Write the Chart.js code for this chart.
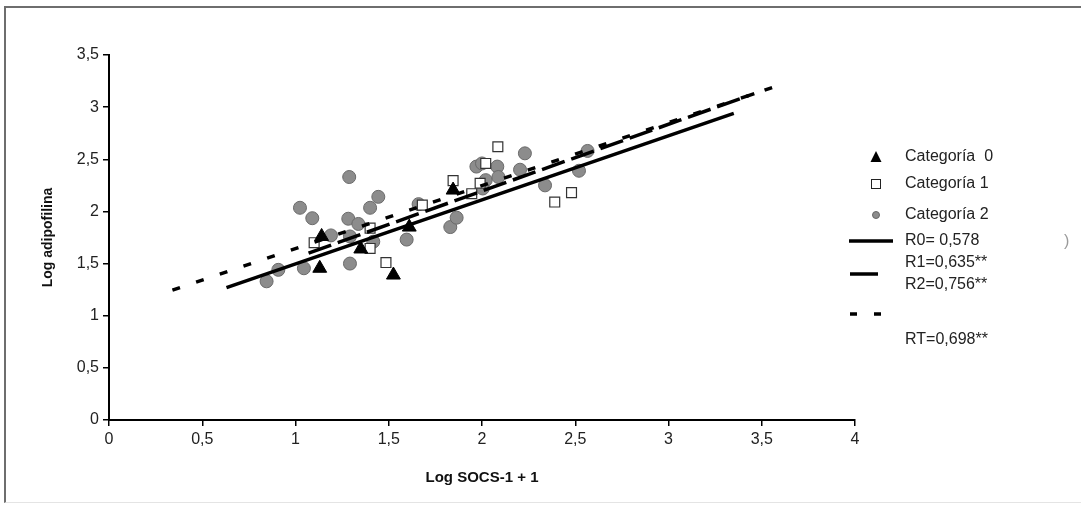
<!DOCTYPE html>
<html>
<head>
<meta charset="utf-8">
<script src="https://cdn.jsdelivr.net/npm/chart.js@4.4.0/dist/chart.umd.min.js"></script>
<style>
    html, body { margin: 0; padding: 0; background: #fff; }
    #wrap { position: relative; width: 1081px; height: 505px; overflow: hidden; }
    #frame {
        position: absolute; left: 4px; top: 6px; width: 1090px; height: 494px;
        border-left: 2px solid #6e6e6e; border-top: 2px solid #6e6e6e;
        border-bottom: 1px solid #e4e4e4;
    }
    #edge { position: absolute; left: 1064px; top: 232px; font: 16px "Liberation Sans", Arial, sans-serif; color: #9a9a9a; }
    canvas { position: absolute; left: 0; top: 0; }
</style>
</head>
<body>
<div id="wrap">
    <div id="frame"></div>
    <canvas id="scatter-chart" width="1081" height="505"></canvas>
    <div id="edge">)</div>
</div>
<script>
// Puntos por categoría (Log SOCS-1 + 1, Log adipofilina)
const cat0X = [1.13, 1.14, 1.35, 1.525, 1.61, 1.845];
const cat0Y = [1.455, 1.76, 1.64, 1.39, 1.85, 2.205];

const cat1X = [1.10, 1.40, 1.40, 1.485, 1.68, 1.845, 1.945, 1.99, 2.02, 2.085, 2.39, 2.48];
const cat1Y = [1.70, 1.84, 1.645, 1.51, 2.06, 2.295, 2.17, 2.27, 2.46, 2.62, 2.09, 2.18];

const cat2X = [0.845, 0.908, 1.045, 1.024, 1.09, 1.19, 1.288, 1.283, 1.337, 1.292, 1.292, 1.40, 1.444, 1.417,
               1.596, 1.66, 1.83, 1.864, 1.97, 2.00, 2.082, 2.02, 2.088, 2.004, 2.204, 2.23, 2.338, 2.52, 2.566];
const cat2Y = [1.33, 1.44, 1.455, 2.035, 1.935, 1.77, 2.33, 1.93, 1.88, 1.76, 1.50, 2.035, 2.14, 1.71,
               1.73, 2.07, 1.85, 1.94, 2.43, 2.46, 2.43, 2.30, 2.33, 2.22, 2.40, 2.557, 2.25, 2.39, 2.58];

// Rectas de regresión (extremos)
const r0X = [0.63, 3.35];
const r0Y = [1.27, 2.94];
const r1X = [1.07, 3.46];
const r1Y = [1.60, 3.13];
const r2X = [0.34, 3.56];
const r2Y = [1.245, 3.19];

const legendLabels = ['Categoría  0', 'Categoría 1', 'Categoría 2', 'R0= 0,578', 'R1=0,635**', 'R2=0,756**', 'RT=0,698**'];

const xTitle = 'Log SOCS-1 + 1';
const yTitle = 'Log adipofilina';

const FONT = '"Liberation Sans", Arial, sans-serif';

function toPoints(xs, ys) {
    return xs.map((x, i) => ({ x: x, y: ys[i] }));
}

function comma(value) {
    return String(value).replace('.', ',');
}

// Leyenda lateral dibujada a mano
const sideLegend = {
    id: 'sideLegend',
    afterDraw(chart) {
        const ctx = chart.ctx;
        const mx = 876;
        const tx = 905;
        const rows = [157, 184, 215, 241, 263, 285, 340];
        ctx.save();
        ctx.font = '16px ' + FONT;
        ctx.fillStyle = '#222';
        ctx.textBaseline = 'middle';
        legendLabels.forEach((t, i) => ctx.fillText(t, tx, rows[i]));

        // triángulo
        ctx.fillStyle = '#000';
        ctx.beginPath();
        ctx.moveTo(mx, rows[0] - 6);
        ctx.lineTo(mx + 5.5, rows[0] + 5);
        ctx.lineTo(mx - 5.5, rows[0] + 5);
        ctx.closePath();
        ctx.fill();

        // cuadrado
        ctx.strokeStyle = '#222';
        ctx.lineWidth = 1;
        ctx.strokeRect(mx - 4.5, rows[1] - 4.5, 9, 9);

        // círculo
        ctx.fillStyle = '#8c8c8c';
        ctx.strokeStyle = '#666';
        ctx.beginPath();
        ctx.arc(mx, rows[2], 3.5, 0, Math.PI * 2);
        ctx.fill();
        ctx.stroke();

        // líneas
        ctx.strokeStyle = '#000';
        ctx.lineWidth = 3.5;
        ctx.beginPath();
        ctx.moveTo(849, rows[3]); ctx.lineTo(893, rows[3]);
        ctx.stroke();
        ctx.beginPath();
        ctx.moveTo(850, rows[4] + 11); ctx.lineTo(878, rows[4] + 11);
        ctx.stroke();
        ctx.beginPath();
        ctx.moveTo(850, rows[5] + 29); ctx.lineTo(857, rows[5] + 29);
        ctx.moveTo(874, rows[5] + 29); ctx.lineTo(881, rows[5] + 29);
        ctx.stroke();
        ctx.restore();
    }
};

const ctx = document.getElementById('scatter-chart').getContext('2d');

new Chart(ctx, {
    type: 'scatter',
    data: {
        datasets: [
            {
                type: 'line', label: 'R0', data: toPoints(r0X, r0Y),
                borderColor: '#000', borderWidth: 3.5, pointRadius: 0, fill: false, order: 0
            },
            {
                type: 'line', label: 'R1', data: toPoints(r1X, r1Y),
                borderColor: '#000', borderWidth: 3.5, borderDash: [24, 7], pointRadius: 0, fill: false, order: 0
            },
            {
                type: 'line', label: 'R2', data: toPoints(r2X, r2Y),
                borderColor: '#000', borderWidth: 3.5, borderDash: [8, 17], pointRadius: 0, fill: false, order: 0
            },
            {
                label: 'Categoría 2', data: toPoints(cat2X, cat2Y),
                pointStyle: 'circle', pointRadius: 6.5, backgroundColor: '#8c8c8c', borderColor: '#6a6a6a', borderWidth: 1, order: 3
            },
            {
                label: 'Categoría 1', data: toPoints(cat1X, cat1Y),
                pointStyle: 'rect', pointRadius: 7, backgroundColor: '#fff', borderColor: '#333', borderWidth: 1.2, order: 2
            },
            {
                label: 'Categoría 0', data: toPoints(cat0X, cat0Y),
                pointStyle: 'triangle', pointRadius: 8, backgroundColor: '#000', borderColor: '#000', borderWidth: 1, order: 1
            }
        ]
    },
    options: {
        responsive: false,
        animation: false,
        layout: {
            padding: { left: 40, top: 55, right: 226, bottom: 18 }
        },
        plugins: {
            legend: { display: false },
            tooltip: { enabled: false }
        },
        scales: {
            x: {
                type: 'linear',
                min: 0,
                max: 4,
                afterFit(scale) { scale.height = 67; },
                border: { color: '#000', width: 2 },
                grid: { drawOnChartArea: false, color: '#000', tickLength: 6, lineWidth: 1.5 },
                ticks: {
                    stepSize: 0.5,
                    color: '#222',
                    font: { family: FONT, size: 16 },
                    padding: 4,
                    callback: value => comma(value)
                },
                title: {
                    display: true,
                    text: xTitle,
                    color: '#111',
                    font: { family: FONT, size: 15, weight: 'bold' },
                    padding: { top: 0, bottom: 0 }
                }
            },
            y: {
                type: 'linear',
                min: 0,
                max: 3.5,
                afterFit(scale) { scale.width = 69; },
                border: { color: '#000', width: 2 },
                grid: { drawOnChartArea: false, color: '#000', tickLength: 6, lineWidth: 1.5 },
                ticks: {
                    stepSize: 0.5,
                    color: '#222',
                    font: { family: FONT, size: 16 },
                    padding: 4,
                    callback: value => comma(value)
                },
                title: {
                    display: true,
                    text: yTitle,
                    color: '#111',
                    font: { family: FONT, size: 14, weight: 'bold' },
                    padding: { top: 0, bottom: 0 }
                }
            }
        }
    },
    plugins: [sideLegend]
});
</script>
</body>
</html>
